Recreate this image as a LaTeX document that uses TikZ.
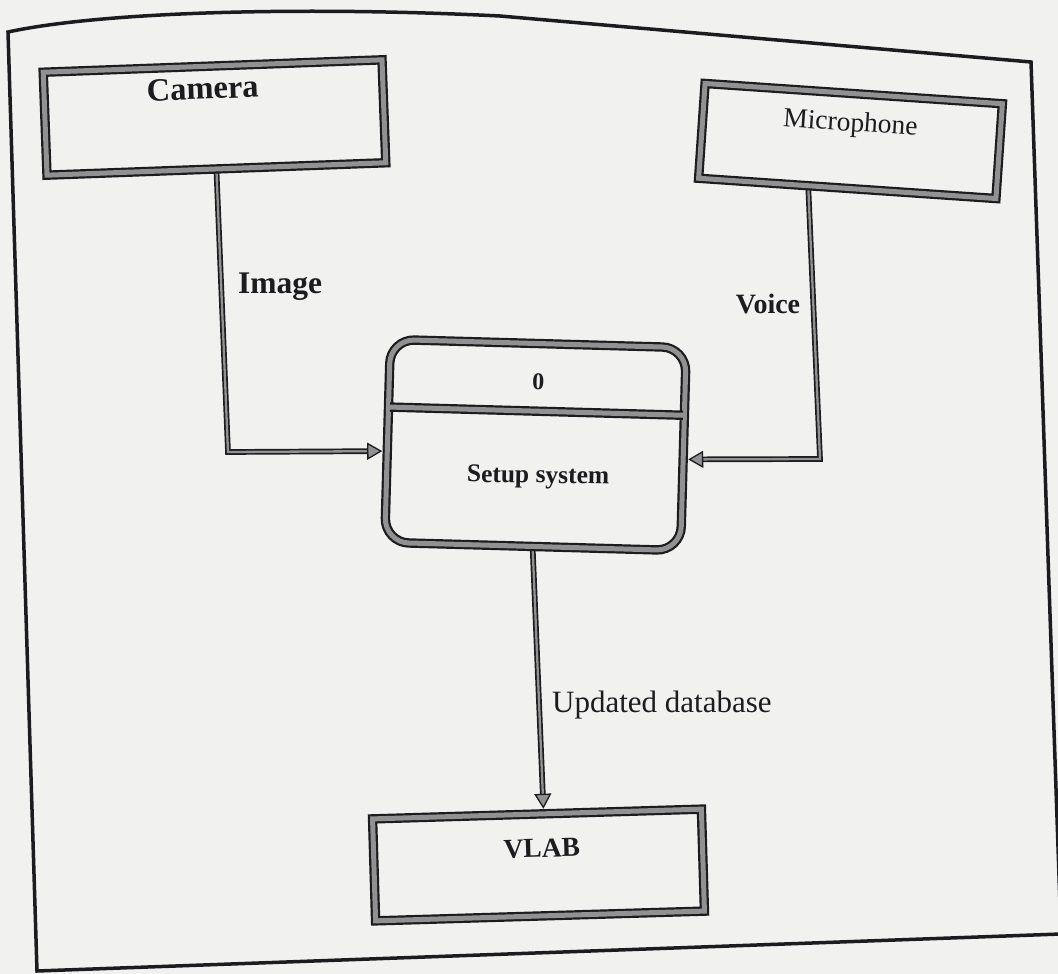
\documentclass[tikz,border=0pt]{standalone}
\usepackage{fontspec}
\setmainfont{Liberation Serif}
\usetikzlibrary{calc,arrows.meta}
\pgfdeclarelayer{bg}
\pgfsetlayers{bg,main}
\definecolor{paper}{RGB}{241,241,239}
\definecolor{ink}{RGB}{28,28,32}
\definecolor{band}{RGB}{145,145,145}
\tikzset{
  box/.style={draw=ink, line width=2.2pt, double=band, double distance=5pt,
    fill=paper, inner sep=0pt},
  proc/.style={box, rounded corners=24pt},
  conn/.style={draw=ink, line width=1.7pt, double=band, double distance=2.3pt,
    line join=miter,
    -{Triangle[length=15pt,width=17pt,fill=band,line width=1.3pt]},
    shorten >=4pt},
  lbl/.style={inner sep=0pt, anchor=base, text=ink},
  frameline/.style={draw=ink, line width=3.5pt, line join=miter}
}
\begin{document}
\begin{tikzpicture}[x=1pt,y=-1pt]
\useasboundingbox (0,0) rectangle (1058,974);

% boxes
\node[box, minimum width=339pt, minimum height=103pt, rotate=2.1] (cam) at (214.5,117.5) {};
\node[box, minimum width=298pt, minimum height=95pt, rotate=-3.9] (mic) at (850.5,141) {};
\node[proc, minimum width=296pt, minimum height=203pt, rotate=-1.6] (setup) at (535.5,445) {};
\node[box, minimum width=329pt, minimum height=102pt, rotate=1.7] (vlab) at (538.5,865) {};

% divider of the process box, joined into its border
\coordinate (dl) at ($(setup.north west)!0.335!(setup.south west)$);
\coordinate (dr) at ($(setup.north east)!0.335!(setup.south east)$);
\draw[ink, line width=9.4pt] ($(dl)!2.5pt!(dr)$) -- ($(dr)!2.5pt!(dl)$);
\draw[band, line width=5pt] (dl) -- (dr);

% texts
\node[lbl, font=\bfseries\fontsize{32.5}{37}\selectfont, rotate=2.1] (tcam) at (203,99) {Camera};
\node[lbl, font=\fontsize{27.5}{31}\selectfont, rotate=-3.9] (tmic) at (850,131) {Microphone};
\node[lbl, font=\bfseries\fontsize{31.5}{36}\selectfont] (timg) at (280,293) {Image};
\node[lbl, font=\bfseries\fontsize{28}{32}\selectfont] (tvoi) at (768,313) {Voice};
\node[lbl, font=\bfseries\fontsize{24}{28}\selectfont, rotate=-1.6] (tnum) at (538,390) {0};
\node[lbl, font=\bfseries\fontsize{25.5}{29}\selectfont, rotate=-1] (tset) at (538,483) {Setup system};
\node[lbl, font=\fontsize{31}{35}\selectfont, anchor=base west] (tupd) at (552,712) {Updated database};
\node[lbl, font=\bfseries\fontsize{27.5}{32}\selectfont, rotate=1.7] (tvl) at (542,857) {VLAB};

\begin{pgfonlayer}{bg}
  \fill[paper] (0,0) rectangle (1058,974);
  % page frame
  \draw[frameline] (8,32) .. controls (100,12) and (300,6) .. (500,16)
    -- (1031,62) -- (1061,934) -- (37,971) -- cycle;
  % data flows
  \coordinate (camB) at (228,452);
  \coordinate (micB) at (820,459);
  \draw[conn] (cam.south) -- (camB) -- ($(setup.north west)!0.55!(setup.south west)$);
  \draw[conn] ($(mic.south west)!0.37!(mic.south east)$) -- (micB)
    -- ($(setup.north east)!0.55!(setup.south east)$);
  \draw[conn] (setup.south) -- ($(vlab.north west)!0.52!(vlab.north east)$);
\end{pgfonlayer}
\end{tikzpicture}
\end{document}
